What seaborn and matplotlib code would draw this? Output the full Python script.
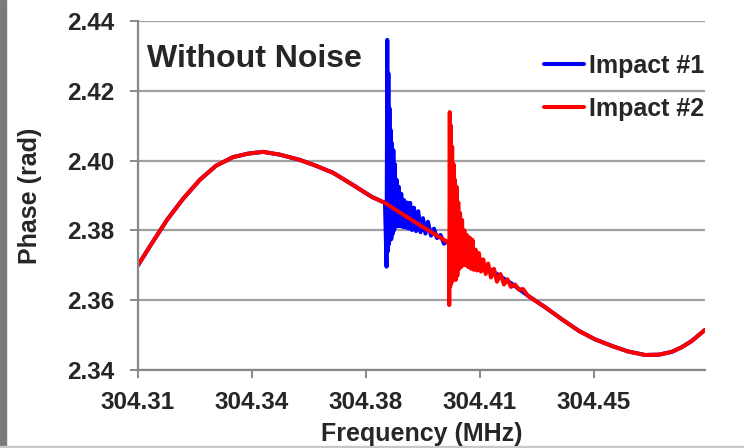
import numpy as np
import pandas as pd
import matplotlib
matplotlib.use("Agg")
import matplotlib.pyplot as plt
import seaborn as sns
from matplotlib.patches import Rectangle
from matplotlib.lines import Line2D

# ── data ──────────────────────────────────────────────────────────────────────
# smooth phase response shared by both impacts
base_freq = [304.3100, 304.3137, 304.3189, 304.3238, 304.3290, 304.3339, 304.3392,
             304.3438, 304.3484, 304.3536, 304.3597, 304.3647, 304.3699, 304.3757,
             304.3818, 304.3858, 304.3950, 304.4055, 304.4104, 304.4156, 304.4202,
             304.4248, 304.4297, 304.4350, 304.4402, 304.4454, 304.4503, 304.4555,
             304.4605, 304.4657, 304.4700, 304.4739, 304.4769, 304.4800, 304.4841]
base_phase = [2.3700, 2.3755, 2.3830, 2.3890, 2.3945, 2.3985, 2.4010,
              2.4020, 2.4025, 2.4017, 2.4002, 2.3985, 2.3965, 2.3932,
              2.3896, 2.3879, 2.3824, 2.3764, 2.3735, 2.3704, 2.3675,
              2.3647, 2.3613, 2.3580, 2.3545, 2.3512, 2.3488, 2.3469,
              2.3453, 2.3443, 2.3444, 2.3452, 2.3465, 2.3483, 2.3515]

# ringing after impact #1
imp1_freq = [304.38583, 304.38614, 304.38632, 304.38654, 304.38669, 304.38688,
             304.38703, 304.38721, 304.38740, 304.38758, 304.38777, 304.38798,
             304.38819, 304.38841, 304.38862, 304.38887, 304.38911, 304.38942,
             304.38972, 304.39006, 304.39044, 304.39083, 304.39124, 304.39167,
             304.39213, 304.39259, 304.39308, 304.39357, 304.39412, 304.39474,
             304.39535, 304.39606, 304.39676, 304.39750, 304.39827, 304.39903,
             304.39996, 304.40088, 304.40180, 304.40287, 304.40395, 304.40487]
imp1_phase = [2.3879, 2.3764, 2.3696, 2.4346, 2.3740, 2.4250,
              2.3760, 2.4150, 2.3772, 2.4088, 2.3775, 2.4050,
              2.3790, 2.4030, 2.3800, 2.3990, 2.3810, 2.3945,
              2.3812, 2.3925, 2.3812, 2.3905, 2.3810, 2.3887,
              2.3808, 2.3880, 2.3805, 2.3879, 2.3801, 2.3865,
              2.3798, 2.3855, 2.3795, 2.3835, 2.3791, 2.3825,
              2.3785, 2.3805, 2.3778, 2.3787, 2.3762, 2.3768]

# ringing after impact #2
imp2_freq = [304.40548, 304.40557, 304.40573, 304.40588, 304.40607, 304.40625,
             304.40646, 304.40668, 304.40689, 304.40711, 304.40732, 304.40757,
             304.40782, 304.40806, 304.40834, 304.40862, 304.40889, 304.40920,
             304.40951, 304.40984, 304.41021, 304.41058, 304.41098, 304.41138,
             304.41181, 304.41224, 304.41270, 304.41316, 304.41365, 304.41414,
             304.41469, 304.41531, 304.41601, 304.41675, 304.41752, 304.41838,
             304.41930, 304.42022, 304.42129, 304.42237, 304.42344, 304.42452,
             304.42575, 304.42698, 304.42820]
imp2_phase = [2.3764, 2.3586, 2.4139, 2.3640, 2.4100, 2.3650,
              2.4040, 2.3670, 2.3990, 2.3660, 2.3945, 2.3658,
              2.3925, 2.3670, 2.3880, 2.3690, 2.3850, 2.3695,
              2.3830, 2.3700, 2.3800, 2.3700, 2.3787, 2.3695,
              2.3780, 2.3690, 2.3773, 2.3687, 2.3745, 2.3685,
              2.3735, 2.3682, 2.3717, 2.3675, 2.3705, 2.3665,
              2.3690, 2.3653, 2.3675, 2.3645, 2.3660, 2.3638,
              2.3645, 2.3630, 2.3632]

x_ticks = [304.31, 304.345, 304.38, 304.415, 304.45]
x_tick_labels = ["304.31", "304.34", "304.38", "304.41", "304.45"]
y_ticks = [2.34, 2.36, 2.38, 2.40, 2.42, 2.44]
y_tick_labels = ["2.34", "2.36", "2.38", "2.40", "2.42", "2.44"]
series_names = ["Impact #1", "Impact #2"]
series_colors = ["#0000ff", "#ff0000"]


def splice(ring_f, ring_p):
    """Insert a ringing segment into the smooth base curve."""
    f0, f1 = ring_f[0], ring_f[-1]
    before = [(f, p) for f, p in zip(base_freq, base_phase) if f < f0]
    after = [(f, p) for f, p in zip(base_freq, base_phase) if f > f1]
    pts = before + list(zip(ring_f, ring_p)) + after
    return pd.DataFrame(pts, columns=["freq", "phase"])


sns.set_theme(style="white")
plt.rcParams["font.family"] = ["Liberation Sans", "DejaVu Sans"]
plt.rcParams["font.weight"] = "bold"

fig = plt.figure(figsize=(7.44, 4.48), dpi=100)
ax = fig.add_axes([138 / 744, 1 - 370 / 448, 567 / 744, 349 / 448])

for name, col, (rf, rp) in zip(series_names, series_colors,
                               [(imp1_freq, imp1_phase), (imp2_freq, imp2_phase)]):
    df = splice(rf, rp)
    sns.lineplot(data=df, x="freq", y="phase", ax=ax, color=col, lw=2.9,
                 estimator=None, sort=False, label=name)

ax.set_xlim(304.31, 304.4841)
ax.set_ylim(2.34, 2.44)
ax.set_xticks(x_ticks, x_tick_labels)
ax.set_yticks(y_ticks, y_tick_labels)
ax.grid(axis="y", color="#a0a0a0", lw=1.6)
ax.grid(axis="x", visible=False)
ax.set_axisbelow(True)
for s in ["top", "right"]:
    ax.spines[s].set_visible(False)
for s in ["left", "bottom"]:
    ax.spines[s].set_color("#888888")
    ax.spines[s].set_linewidth(1.6)
ax.tick_params(axis="both", which="major", length=6, width=1.4, color="#888888",
               labelsize=17.5, direction="out", bottom=True, left=True)
ax.tick_params(axis="y", pad=11)
ax.tick_params(axis="x", pad=9)
for lab in ax.get_xticklabels() + ax.get_yticklabels():
    lab.set_fontweight("bold")

ax.set_xlabel("Frequency (MHz)", fontsize=18, fontweight="bold")
ax.set_ylabel("Phase (rad)", fontsize=18, fontweight="bold")
ax.xaxis.set_label_coords(0.5, -0.148)
ax.yaxis.set_label_coords(-0.17, 0.5)

fig.text(147 / 744, 1 - 59 / 448, "Without Noise", fontsize=23, fontweight="bold",
         va="center", ha="left")

handles = [Line2D([], [], color=c, lw=2.9) for c in series_colors]
ax.legend(handles, series_names, loc="center left",
          bbox_to_anchor=(544 / 744, 1 - 87.5 / 448), bbox_transform=fig.transFigure,
          frameon=False, handlelength=1.6, handletextpad=0.2,
          labelspacing=0.75, borderpad=0, borderaxespad=0,
          prop={"weight": "bold", "size": 18})

# frame remnants of the original screenshot
fig.patches.append(Rectangle((0, 0), 6 / 744, 1, transform=fig.transFigure,
                             color="#7a7a7a", zorder=-1))
fig.patches.append(Rectangle((0, 0), 1, 2 / 448, transform=fig.transFigure,
                             color="#c8c8c8", zorder=-1))

fig.savefig("out.png", dpi=100)
plt.close(fig)
